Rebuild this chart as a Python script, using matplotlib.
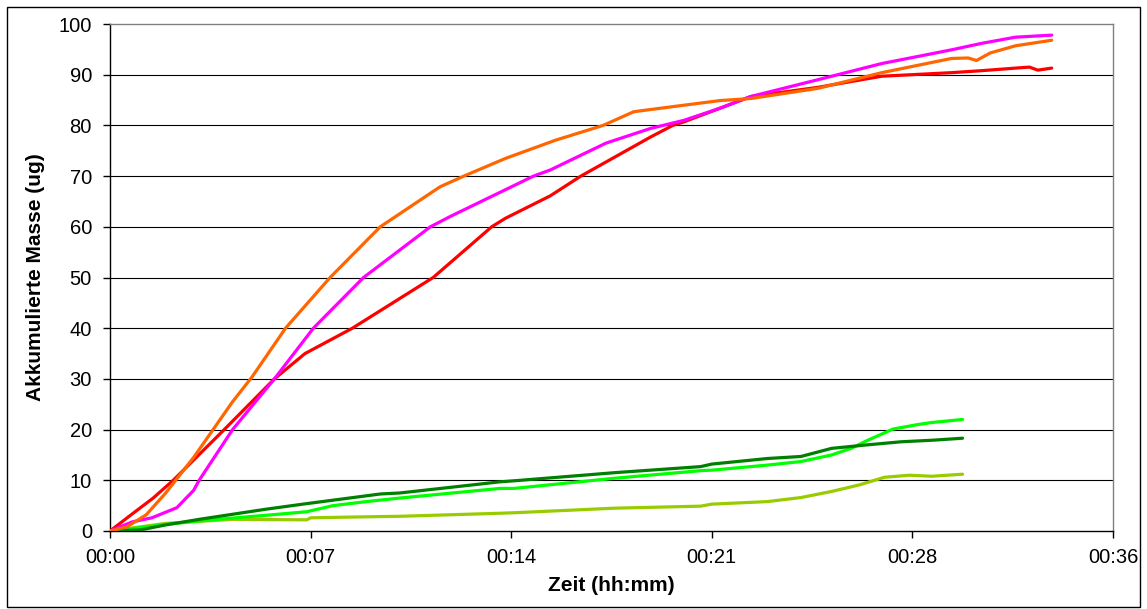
import matplotlib
matplotlib.use("Agg")
import matplotlib.pyplot as plt
from matplotlib.patches import Rectangle

plt.rcParams['font.family'] = ['Liberation Sans', 'DejaVu Sans']

# time in minutes, values in ug
orange_t = [0, 0.6, 1.3, 2.0, 2.5, 3.0, 3.7, 4.4, 5.1, 6.3, 7.9, 9.7, 11.85, 12.7, 14.2, 16.0,
            17.7, 18.8, 20.2, 21.9, 23.0, 25.4, 27.7, 30.2, 30.8, 31.1, 31.6, 32.5, 33.8]
orange_v = [0, 0.8, 3.2, 7.5, 11, 14.5, 20, 25.5, 30.4, 40, 50, 60, 67.9, 70, 73.5, 77.1,
            80, 82.7, 83.7, 84.9, 85.3, 87.3, 90.4, 93.2, 93.3, 92.8, 94.3, 95.7, 96.8]

magenta_t = [0, 0.8, 1.5, 2.4, 3.0, 3.2, 4.4, 5.9, 7.3, 9.1, 11.5, 12.2, 15.2, 15.8, 17.8,
             19.4, 20.6, 21.9, 23.0, 25.4, 27.7, 30.2, 31.3, 32.5, 33.8]
magenta_v = [0, 1.8, 2.6, 4.6, 8, 10, 20, 30, 40, 50, 60, 62, 70, 71.2, 76.5,
             79.4, 81, 83.4, 85.7, 89, 92.2, 94.9, 96.2, 97.4, 97.8]

red_t = [0, 0.83, 1.55, 2.27, 4.1, 5.9, 7.0, 8.7, 11.6, 13.7, 14.2, 15.8, 16.9, 19.4, 20.2,
         20.6, 21.9, 23.0, 25.4, 27.7, 30.2, 31.3, 32.5, 33.0, 33.3, 33.8]
red_v = [0, 3.5, 6.5, 10, 20, 30, 35, 40, 50, 60, 61.7, 66.1, 70, 77.7, 80,
         80.7, 83.4, 85.7, 87.5, 89.7, 90.4, 90.8, 91.3, 91.5, 90.9, 91.3]

dgreen_t = [0, 1.08, 2.0, 3.2, 5.6, 7.06, 7.2, 9.7, 10.4, 14.0, 14.5, 18.1, 21.2, 21.6,
            23.6, 24.8, 25.9, 27.2, 28.4, 29.5, 30.6]
dgreen_v = [0, 0.2, 1.2, 2.3, 4.3, 5.4, 5.5, 7.3, 7.5, 9.7, 9.9, 11.5, 12.7, 13.2,
            14.3, 14.7, 16.3, 17.0, 17.6, 17.9, 18.3]

bgreen_t = [0, 1.0, 2.0, 3.2, 5.6, 7.06, 8.0, 9.2, 10.4, 14.0, 14.5, 18.1, 21.2, 21.6,
            23.6, 24.8, 25.9, 26.6, 27.2, 28.1, 29.0, 29.5, 30.6]
bgreen_v = [0, 0.6, 1.3, 2.0, 3.1, 3.8, 5.0, 5.8, 6.5, 8.4, 8.4, 10.4, 11.9, 12.0,
            13.0, 13.7, 15.0, 16.3, 17.9, 20.1, 21.0, 21.4, 22.0]

ygreen_t = [0, 2.0, 4.4, 7.06, 7.2, 9.2, 10.4, 14.0, 14.5, 18.1, 21.2, 21.6, 23.6, 24.8,
            25.9, 26.9, 27.8, 28.7, 29.5, 30.6]
ygreen_v = [0, 1.5, 2.3, 2.2, 2.6, 2.8, 2.9, 3.5, 3.6, 4.5, 4.9, 5.3, 5.8, 6.6,
            7.8, 9.1, 10.6, 11.0, 10.8, 11.2]

x_ticks = [0, 7.2, 14.4, 21.6, 28.8, 36.0]
x_labels = ['00:00', '00:07', '00:14', '00:21', '00:28', '00:36']
y_ticks = [0, 10, 20, 30, 40, 50, 60, 70, 80, 90, 100]

W, H = 1147, 609
fig = plt.figure(figsize=(W / 100, H / 100), dpi=100)
ax = fig.add_axes([110 / W, 1 - 531 / H, (1113 - 110) / W, (531 - 24) / H])

# outer chart border
fig.patches.append(Rectangle((7 / W, 1 - 607 / H), (1140 - 7) / W, (607 - 7) / H,
                             transform=fig.transFigure, fill=False, edgecolor='black',
                             linewidth=1.0))

for yv in y_ticks[1:-1]:
    ax.axhline(yv, color='black', linewidth=0.8, zorder=1)

series = [
    (ygreen_t, ygreen_v, '#99CC00'),
    (bgreen_t, bgreen_v, '#00FF00'),
    (dgreen_t, dgreen_v, '#008000'),
    (red_t, red_v, '#FF0000'),
    (magenta_t, magenta_v, '#FF00FF'),
    (orange_t, orange_v, '#FF6600'),
]
for t, v, c in series:
    ax.plot(t, v, color=c, linewidth=2.3, zorder=3, solid_capstyle='round')

ax.set_xlim(0, 36)
ax.set_ylim(0, 100)
ax.set_xticks(x_ticks)
ax.set_xticklabels(x_labels)
ax.set_yticks(y_ticks)

for s in ['top', 'right']:
    ax.spines[s].set_color('#808080')
    ax.spines[s].set_linewidth(1.0)
for s in ['left', 'bottom']:
    ax.spines[s].set_color('black')
    ax.spines[s].set_linewidth(1.0)

ax.tick_params(axis='both', direction='out', length=5, width=1.0, colors='black',
               labelsize=14.5)
ax.tick_params(axis='y', pad=8)
ax.tick_params(axis='x', pad=7)
ax.set_xlabel('Zeit (hh:mm)', fontsize=15, fontweight='bold', labelpad=7)
ax.set_ylabel('Akkumulierte Masse (ug)', fontsize=15, fontweight='bold', labelpad=10)

fig.savefig('out.png', dpi=100)
